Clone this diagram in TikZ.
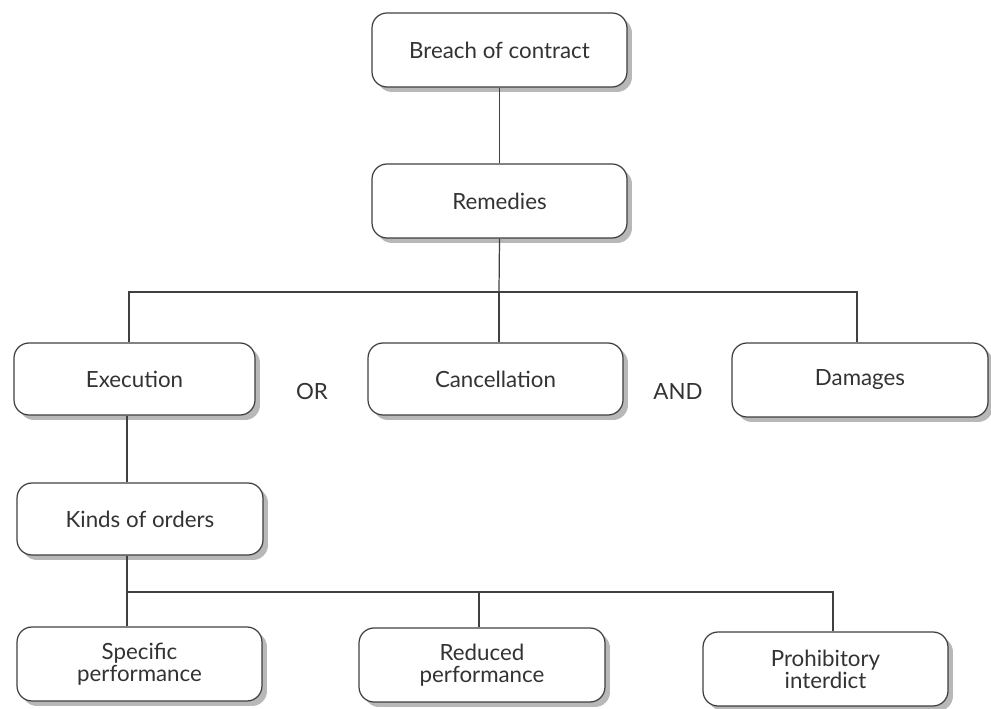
\documentclass[tikz,border=0pt]{standalone}
\usepackage{fontspec}
\setmainfont{Lato}
\usetikzlibrary{shadows}

\begin{document}
\begin{tikzpicture}[x=0.02cm,y=-0.02cm,
  box/.style={draw=black!75, line width=0.7pt, rounded corners=0.3cm, fill=white,
    align=center, text=black!80, font=\fontsize{12.7}{12.6}\selectfont,
    minimum width=4.9cm, minimum height=1.46cm,
    drop shadow={shadow xshift=0.1cm, shadow yshift=-0.1cm, fill=black!28, opacity=1}},
  word/.style={text=black!80, font=\fontsize{12.7}{12.6}\selectfont},
  link/.style={draw=black!75, line width=0.7pt}]
\useasboundingbox (0,0) rectangle (991,709);
% top of the tree
\node[box, minimum width=5.1cm, minimum height=1.48cm] (breach) at (499.5,50) {Breach of contract};
\node[box, minimum width=5.1cm, minimum height=1.48cm] (remedies) at (499.5,201) {Remedies};
% the three remedies
\node[box, minimum width=4.82cm, minimum height=1.44cm] (execution) at (134.5,379) {Execution};
\node[box, minimum width=5.1cm, minimum height=1.44cm] (cancel) at (495.5,379) {Cancellation};
\node[box, minimum width=5.12cm, minimum height=1.48cm] (damages) at (860,380) {Damages};
\node[word] (or) at (312,392) {OR};
\node[word] (and) at (678,392) {AND};
% orders
\node[box, minimum width=4.92cm, minimum height=1.44cm] (kinds) at (140,519) {Kinds of orders};
\node[box, minimum width=4.9cm, minimum height=1.48cm] (specific) at (139.5,664) {Specific\\performance};
\node[box, minimum width=4.92cm, minimum height=1.48cm] (reduced) at (482,665) {Reduced\\performance};
\node[box, minimum width=4.9cm, minimum height=1.48cm] (prohib) at (825.5,669) {Prohibitory\\interdict};
% connectors
\coordinate (busA) at (499,292);
\coordinate (busB) at (127,592);
\draw[link] (breach) -- (remedies);
\draw[link] (remedies.south) -- (busA);
\draw[link] ([xshift=-0.11cm]execution.north) |- (busA) -| ([xshift=-0.06cm]damages.north);
\draw[link] (busA) -- (busA |- cancel.north);
\draw[link] ([xshift=-0.15cm]execution.south) coordinate (e1) -- (e1 |- kinds.north);
\draw[link] (busB |- kinds.south) -- (busB);
\draw[link] (busB |- specific.north) |- ([xshift=0.15cm]prohib.north |- busB) -- ([xshift=0.15cm]prohib.north);
\draw[link] ([xshift=-0.06cm]reduced.north |- busB) -- ([xshift=-0.06cm]reduced.north);
\end{tikzpicture}
\end{document}
